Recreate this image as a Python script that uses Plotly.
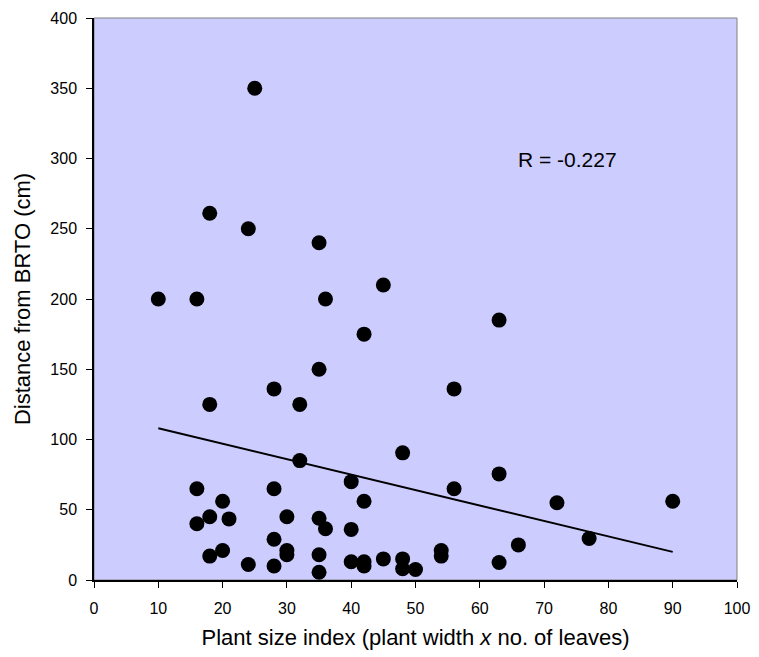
import plotly.graph_objects as go

plant_size = [25, 18, 24, 35, 10, 16, 36, 45, 42, 35, 28, 18, 32, 63, 56, 48,
              32, 40, 16, 28, 20, 42, 18, 21, 16, 30, 35, 36, 40, 28, 30, 30,
              20, 18, 24, 28, 35, 35, 40, 42, 42, 45, 63, 56, 72, 90, 77, 66,
              54, 54, 63, 48, 48, 50]
distance = [350, 261, 250, 240, 200, 200, 200, 210, 175, 150, 136, 125, 125, 185, 136, 90.5,
            85, 70, 65, 65, 56, 56, 45, 43.5, 40, 45, 44, 36.5, 36, 29, 21, 18,
            21, 17, 11, 10, 18, 5.5, 13, 13, 10, 15, 75.5, 65, 55, 56, 29.5, 25,
            21, 17, 12.5, 15, 8, 7.5]

# Linear trend line as drawn in the chart
trend_x = [10, 90]
trend_y = [108, 20]

x_ticks = list(range(0, 101, 10))
y_ticks = list(range(0, 401, 50))

font_family = "Liberation Sans, Arial, sans-serif"

fig = go.Figure()
fig.add_trace(go.Scatter(
    x=trend_x, y=trend_y, mode="lines",
    line=dict(color="black", width=2), showlegend=False, hoverinfo="skip"))
fig.add_trace(go.Scatter(
    x=plant_size, y=distance, mode="markers",
    marker=dict(color="black", size=15, line=dict(width=0)),
    showlegend=False))

fig.add_annotation(x=73.7, y=299, xref="x", yref="y", text="R = -0.227",
                   showarrow=False, font=dict(size=21, color="black", family=font_family))

# grey frame around plot area
fig.add_shape(type="rect", xref="paper", yref="paper", x0=0, y0=0, x1=1, y1=1,
              line=dict(color="#808080", width=1), layer="below")

# page body has an 8px default margin, so the figure is offset by 8px
fig.update_layout(
    width=751, height=649,
    margin=dict(l=86, r=22, t=10, b=77, autoexpand=False),
    paper_bgcolor="white", plot_bgcolor="#CCCCFF",
    font=dict(family=font_family, color="black", size=16),
    xaxis=dict(range=[0, 100], tickvals=x_ticks, showgrid=False, zeroline=False,
               showline=True, linecolor="black", linewidth=1.5,
               ticks="outside", ticklen=6, tickcolor="black",
               ticklabelstandoff=7, tickfont=dict(size=16), automargin=False,
               title=dict(text="Plant size index (plant width <i>x</i> no. of leaves)",
                          font=dict(size=22), standoff=14)),
    yaxis=dict(range=[0, 400], tickvals=y_ticks, showgrid=False, zeroline=False,
               showline=True, linecolor="black", linewidth=1.5,
               ticks="outside", ticklen=6, tickcolor="black",
               ticklabelstandoff=6, tickfont=dict(size=16), automargin=False,
               title=dict(text="Distance from BRTO (cm)", font=dict(size=22), standoff=14)),
)

fig.write_html("out.html")
